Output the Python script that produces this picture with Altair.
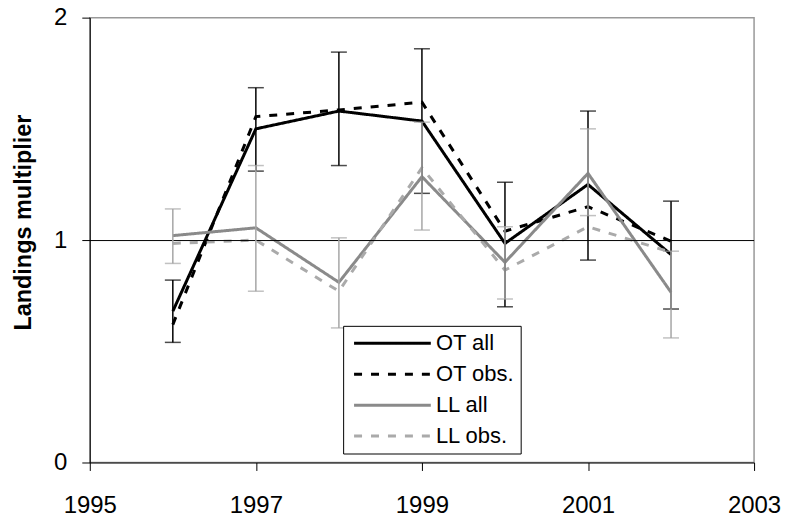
import altair as alt
import pandas as pd

years = [1996, 1997, 1998, 1999, 2000, 2001, 2002]
ot_all = [0.68, 1.50, 1.58, 1.535, 0.985, 1.25, 0.935]
ot_obs = [0.62, 1.555, 1.585, 1.62, 1.04, 1.15, 0.995]
ll_all = [1.02, 1.055, 0.81, 1.285, 0.90, 1.30, 0.765]
ll_obs = [0.985, 1.0, 0.77, 1.325, 0.865, 1.06, 0.945]

ot_lo = [0.54, 1.31, 1.335, 1.21, 0.70, 0.91, 0.69]
ot_hi = [0.82, 1.685, 1.845, 1.86, 1.26, 1.58, 1.175]
ll_lo = [0.895, 0.77, 0.605, 1.045, 0.735, 1.11, 0.56]
ll_hi = [1.14, 1.335, 1.01, 1.53, 1.06, 1.50, 0.95]

series_names = ["OT all", "OT obs.", "LL all", "LL obs."]
series_colors = ["#000000", "#000000", "#8a8a8a", "#aaaaaa"]
series_dash = [[1, 0], [8, 9], [1, 0], [8, 9]]

x_ticks = [1995, 1997, 1999, 2001, 2003]
y_domain = [0, 2]
y_tick_count = 2
ref_value = [1]

FONT = "Liberation Sans"

rows = []
for name, vals in zip(series_names, [ot_all, ot_obs, ll_all, ll_obs]):
    for yr, v in zip(years, vals):
        rows.append({"year": yr, "value": v, "series": name})
lines_df = pd.DataFrame(rows)

ot_err = pd.DataFrame({"year": years, "lo": ot_lo, "hi": ot_hi})
ll_err = pd.DataFrame({"year": years, "lo": ll_lo, "hi": ll_hi})
ref_df = pd.DataFrame({"ref": ref_value})

xscale = alt.Scale(domain=[1995, 2003], nice=False, zero=False)
yscale = alt.Scale(domain=y_domain, nice=False, zero=True)

xax = alt.Axis(values=x_ticks, format="d", title=None, grid=False, tickCount=20,
               labelFontSize=24, labelPadding=23, tickSize=8,
               labelOverlap=False, labelFlush=False,
               labelFont=FONT, domainColor="black", tickColor="black",
               labelColor="black")
yax = alt.Axis(tickCount=y_tick_count, format="d", grid=False,
               labelOverlap=False, labelFlush=False,
               title="Landings multiplier", titleFont=FONT, titleFontSize=23.5,
               titleFontWeight="bold", titleColor="black",
               titleX=-66, titleY=205, titleAlign="center", titleBaseline="middle",
               titleAngle=270,
               labelFontSize=24, labelPadding=15, tickSize=8, labelFont=FONT,
               domainColor="black", tickColor="black", labelColor="black")

X = alt.X("year:Q", scale=xscale, axis=xax)

ref = alt.Chart(ref_df).mark_rule(color="#000000", strokeWidth=1, yOffset=0.5).encode(
    y=alt.Y("ref:Q", scale=yscale, axis=yax)
)


def errbars(df, color):
    rule = alt.Chart(df).mark_rule(strokeWidth=1.5, color=color).encode(
        x=X, y=alt.Y("lo:Q", scale=yscale, axis=yax), y2="hi:Q"
    )
    lo = alt.Chart(df).mark_tick(orient="horizontal", size=16, thickness=1.5, color=color).encode(
        x=X, y=alt.Y("lo:Q", scale=yscale, axis=yax)
    )
    hi = alt.Chart(df).mark_tick(orient="horizontal", size=16, thickness=1.5, color=color).encode(
        x=X, y=alt.Y("hi:Q", scale=yscale, axis=yax)
    )
    return [rule, lo, hi]


lines = alt.Chart(lines_df).mark_line(strokeWidth=3).encode(
    x=X,
    y=alt.Y("value:Q", scale=yscale, axis=yax),
    color=alt.Color("series:N", scale=alt.Scale(domain=series_names, range=series_colors),
                    title=None),
    strokeDash=alt.StrokeDash("series:N", scale=alt.Scale(domain=series_names, range=series_dash),
                              title=None),
    order=alt.Order("year:Q"),
)

chart = alt.layer(lines, ref, *errbars(ot_err, "#000000"), *errbars(ll_err, "#a6a6a6")).properties(
    width=666, height=446,
    autosize=alt.AutoSizeParams(type="none"),
    padding={"left": 82, "top": 9, "right": 27, "bottom": 58},
).configure_axis(
    labelOverlap=False, labelFlush=False
).configure_view(
    stroke="#999999", strokeWidth=1.5
).configure_legend(
    orient="none", legendX=254, legendY=309,
    strokeColor="black", fillColor="white", padding=6,
    labelFont=FONT, labelFontSize=22, labelColor="black",
    symbolType="M-0.68,0H7.32", symbolSize=370, symbolStrokeWidth=3,
    labelOffset=64, rowPadding=8, cornerRadius=0,
)

chart.save("out.html", embed_options={"renderer": "svg", "actions": False})
